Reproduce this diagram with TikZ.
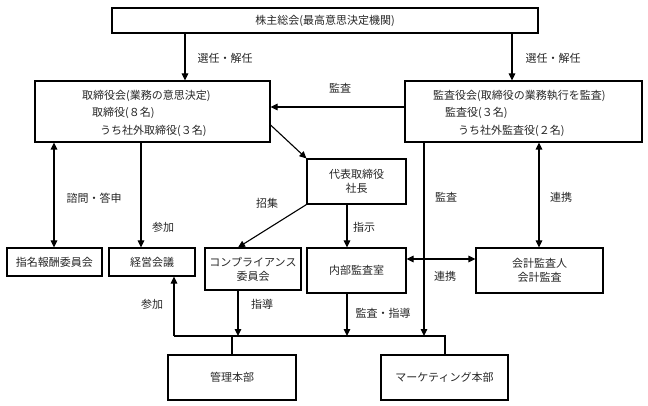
\documentclass[tikz,border=0pt]{standalone}
\usepackage{fontspec}
\setmainfont{Noto Sans CJK JP}
\usetikzlibrary{arrows.meta}
\begin{document}
\begin{tikzpicture}[x=1pt,y=-1pt,
  box/.style={draw, line width=1.1pt, inner sep=0pt, text=black!85, font=\fontsize{11}{14}\selectfont, align=center},
  lbl/.style={inner sep=0pt, text=black!85, font=\fontsize{11}{14}\selectfont},
  conn/.style={line width=1.1pt},
  arr/.style={conn, -{Triangle[length=7pt,width=6.5pt]}},
  darr/.style={conn, {Triangle[length=7pt,width=6.5pt]}-{Triangle[length=7pt,width=6.5pt]}}]
\useasboundingbox (0,0) rectangle (648,406);

% boxes
\node[box, minimum width=426pt, minimum height=25pt] (top) at (325,20.5) {株主総会(最高意思決定機関)};
\node[box, minimum width=235pt, minimum height=61pt] (board) at (152.5,111.5) {};
\node[box, minimum width=237pt, minimum height=61pt] (kansa) at (523.5,111.5) {};
\node[box, minimum width=99pt, minimum height=45pt] (ceo) at (356.5,181.5) {代表取締役\\社長};
\node[box, minimum width=95pt, minimum height=28pt] (shimei) at (54.5,262) {指名報酬委員会};
\node[box, minimum width=86pt, minimum height=28pt] (keiei) at (152,262) {経営会議};
\node[box, minimum width=96pt, minimum height=42pt] (comp) at (253,269) {コンプライアンス\\委員会};
\node[box, minimum width=99pt, minimum height=45pt] (naibu) at (356.5,270.5) {内部監査室};
\node[box, minimum width=127pt, minimum height=45pt] (kaikei) at (539.5,270.5) {会計監査人\\会計監査};
\node[box, minimum width=128pt, minimum height=45pt] (kanri) at (232,377.5) {管理本部};
\node[box, minimum width=127pt, minimum height=45pt] (mkt) at (444.5,377.5) {マーケティング本部};

% texts inside the two large boxes
\node[lbl, anchor=west] (b1) at (82,96) {取締役会(業務の意思決定)};
\node[lbl, anchor=west] (b2) at (92,113) {取締役(８名)};
\node[lbl, anchor=west] (b3) at (100,131) {うち社外取締役(３名)};
\node[lbl, anchor=west] (k1) at (433,96) {監査役会(取締役の業務執行を監査)};
\node[lbl, anchor=west] (k2) at (445,113) {監査役(３名)};
\node[lbl, anchor=west] (k3) at (458,131) {うち社外監査役(２名)};

% helper coordinates
\coordinate (xA) at (185,0);
\coordinate (xB) at (512,0);
\coordinate (yK) at (0,107);
\coordinate (yD) at (0,125);
\coordinate (xS) at (54,0);
\coordinate (xP) at (141,0);
\coordinate (xC) at (238,0);
\coordinate (xN) at (347,0);
\coordinate (yR) at (0,259);
\coordinate (xR) at (539,0);
\coordinate (xM) at (424,0);
\coordinate (bL) at (174,336);
\coordinate (bR) at (445,336);

% connectors
\draw[arr] (top.south -| xA) -- (board.north -| xA);
\draw[arr] (top.south -| xB) -- (kansa.north -| xB);
\draw[arr] (kansa.west |- yK) -- (board.east |- yK);
\draw[arr] (board.east |- yD) -- (ceo.north west);
\draw[darr] (board.south -| xS) -- (shimei.north -| xS);
\draw[arr] (board.south -| xP) -- (keiei.north -| xP);
\draw[arr] (ceo.south west) -- (comp.north -| xC);
\draw[arr] (ceo.south -| xN) -- (naibu.north -| xN);
\draw[darr] (naibu.east |- yR) -- (kaikei.west |- yR);
\draw[darr] (kansa.south -| xR) -- (kaikei.north -| xR);
\draw[conn] (bL) -- (bR) -- (mkt.north -| bR);
\draw[conn] (kanri.north |- bL) -- (kanri.north);
\draw[arr] (bL) -- (keiei.south -| bL);
\draw[arr] (kansa.south -| xM) -- (xM |- bL);
\draw[arr] (comp.south -| xC) -- (xC |- bL);
\draw[arr] (naibu.south -| xN) -- (xN |- bL);

% labels
\node[lbl] (l1) at (225,58) {選任・解任};
\node[lbl] (l2) at (553,58) {選任・解任};
\node[lbl] (l3) at (340,88) {監査};
\node[lbl] (l4) at (94,198) {諮問・答申};
\node[lbl] (l5) at (163,227) {参加};
\node[lbl] (l6) at (267,203) {招集};
\node[lbl] (l7) at (364,227) {指示};
\node[lbl] (l8) at (446,197) {監査};
\node[lbl] (l9) at (561,197) {連携};
\node[lbl] (l10) at (445,276) {連携};
\node[lbl] (l11) at (262,304) {指導};
\node[lbl] (l12) at (383,313) {監査・指導};
\node[lbl] (l13) at (152,304) {参加};
\end{tikzpicture}
\end{document}
